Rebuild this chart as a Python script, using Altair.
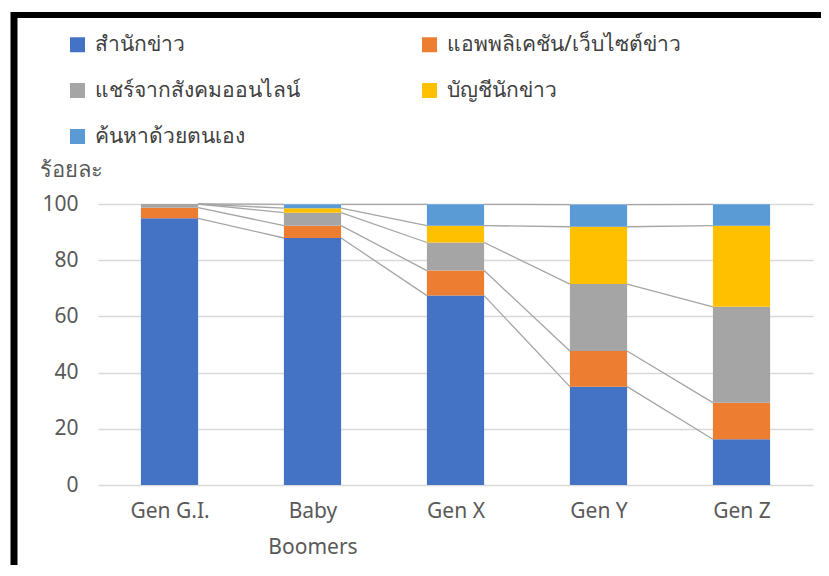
import json
import altair as alt
import pandas as pd

# ---- data ----
generations = ["Gen G.I.", "Baby Boomers", "Gen X", "Gen Y", "Gen Z"]
series_names = [
    "สำนักข่าว",
    "แอพพลิเคชัน/เว็บไซต์ข่าว",
    "แชร์จากสังคมออนไลน์",
    "บัญชีนักข่าว",
    "ค้นหาด้วยตนเอง",
]
series_colors = ["#4472C4", "#ED7D31", "#A5A5A5", "#FFC000", "#5B9BD5"]

news_agency = [94.9, 87.9, 67.4, 35.0, 16.3]
news_app = [3.8, 4.4, 8.9, 12.7, 13.0]
social_share = [1.3, 4.6, 10.0, 23.8, 34.1]
journalist_account = [0.0, 1.6, 6.0, 20.4, 28.9]
self_search = [0.0, 1.4, 7.6, 7.9, 7.6]

y_ticks = [0, 20, 40, 60, 80, 100]
y_title = "ร้อยละ"

series_values = [news_agency, news_app, social_share, journalist_account, self_search]

# ---- tables built from the arrays ----
bar_rows = []
tops = [[] for _ in series_names]
for i, g in enumerate(generations):
    base = 0.0
    for k, (name, vals) in enumerate(zip(series_names, series_values)):
        bar_rows.append(dict(gen=g, idx=i, series=name, order=k, lo=base, hi=base + vals[i]))
        base += vals[i]
        tops[k].append(base)
bars_df = pd.DataFrame(bar_rows)

seg_rows = []
for k, name in enumerate(series_names):
    for i in range(len(generations) - 1):
        seg_rows.append(dict(idx=i, series=name, y_from=tops[k][i], y_to=tops[k][i + 1]))
segs_df = pd.DataFrame(seg_rows)

FONT = "Noto Sans"
names_js = json.dumps(generations, ensure_ascii=False)
label_expr = (
    f"length({names_js}[datum.value]) > 10 ? split({names_js}[datum.value], ' ') : {names_js}[datum.value]"
)

x_scale = alt.Scale(domain=[-0.5, len(generations) - 0.5], nice=False, zero=False)
y_scale = alt.Scale(domain=[0, 100], nice=False)

x_axis = alt.Axis(
    values=list(range(len(generations))),
    labelExpr=label_expr,
    title=None,
    grid=False,
    ticks=False,
    domain=False,
    labelFontSize=21,
    labelPadding=15,
    labelLineHeight=36,
)
y_axis = alt.Axis(
    values=y_ticks,
    title=y_title,
    titleAngle=0,
    titleAlign="left",
    titleBaseline="alphabetic",
    titleX=-59,
    titleY=-28,
    titleFontSize=22,
    titleFontWeight="normal",
    titleColor="#595959",
    ticks=False,
    domain=False,
    labelFontSize=21,
    labelPadding=20,
)

bars = (
    alt.Chart(bars_df)
    .transform_calculate(x0="datum.idx - 0.2", x1="datum.idx + 0.2")
    .mark_bar()
    .encode(
        x=alt.X("x0:Q", scale=x_scale, axis=x_axis),
        x2="x1:Q",
        y=alt.Y("lo:Q", scale=y_scale, axis=y_axis),
        y2="hi:Q",
        color=alt.Color(
            "series:N",
            scale=alt.Scale(domain=series_names, range=series_colors),
            legend=alt.Legend(
                title=None,
                orient="none",
                direction="horizontal",
                legendX=-31,
                legendY=-170,
                columns=2,
                symbolType="square",
                symbolSize=225,
                symbolStrokeWidth=0,
                labelFontSize=21,
                labelColor="#404040",
                labelFont=FONT,
                labelOffset=7,
                labelLimit=400,
                columnPadding=119,
                rowPadding=24,
            ),
        ),
    )
)

lines = (
    alt.Chart(segs_df)
    .transform_calculate(xa="datum.idx + 0.2", xb="datum.idx + 0.8")
    .mark_rule(color="#A5A5A5", strokeWidth=1.3)
    .encode(
        x=alt.X("xa:Q", scale=x_scale),
        x2="xb:Q",
        y=alt.Y("y_from:Q", scale=y_scale),
        y2="y_to:Q",
    )
)

# decorative frame of the screenshot
frame_left = alt.Chart().mark_rule(color="black", strokeWidth=7).encode(
    x=alt.value(-84), y=alt.value(-192), y2=alt.value(380)
)
frame_top = alt.Chart().mark_rule(color="black", strokeWidth=6).encode(
    x=alt.value(-87), x2=alt.value(740), y=alt.value(-189)
)

chart = (
    alt.layer(lines, bars, frame_left, frame_top)
    .properties(width=715, height=281, padding={"left": 90, "top": 196, "right": 8, "bottom": 80},
                autosize=alt.AutoSizeParams(type="none"))
    .configure_view(stroke=None)
    .configure_axis(gridColor="#D9D9D9", gridWidth=1.3, labelColor="#595959", labelFont=FONT, titleFont=FONT)
)

chart.save("out.html", embed_options={"renderer": "svg", "actions": False})
